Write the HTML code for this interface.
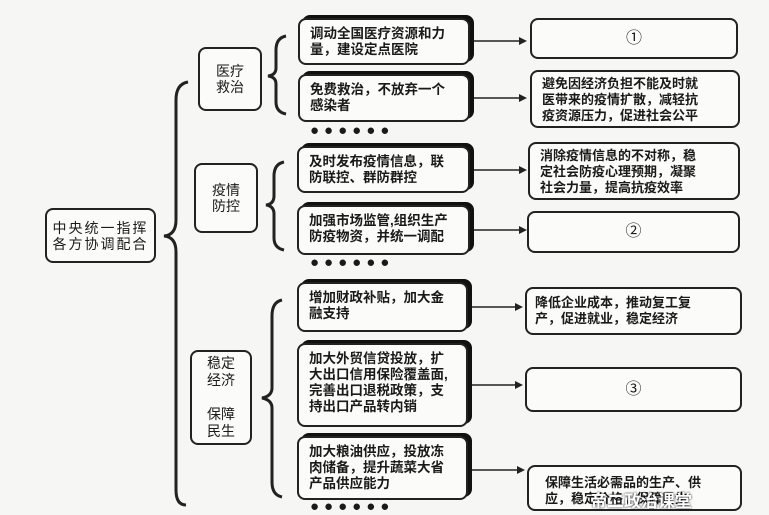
<!DOCTYPE html><html><head><meta charset="utf-8"><style>
body{margin:0;width:769px;height:515px;background:#f6f6f4;position:relative;overflow:hidden;font-family:"Liberation Sans","Noto Sans CJK SC",sans-serif;color:#1a1a1a}
.b{position:absolute;border:2px solid #222;border-radius:8px;background:#fbfbfa;box-sizing:border-box;font-size:14px;line-height:16px;font-weight:bold}
.s{box-shadow:4px -3px 0 #111;padding:6px 4px 6px 10px;font-size:13.5px}
.c{display:flex;align-items:center;justify-content:center;text-align:center}
.r{padding:6px 4px 6px 8px;font-size:13px;white-space:nowrap}
.d{position:absolute;font-size:15px;letter-spacing:5px;font-weight:bold}
</style></head><body>
<svg width="769" height="515" style="position:absolute;left:0;top:0" fill="none" stroke="#222" stroke-width="3">
<path d="M188 82 Q176 84 176 100 L176 220 Q176 235 164 236 Q176 237 176 252 L176 490 Q176 505 186 505"/>
<path d="M286 36 Q276 38 276 50 L276 68 Q276 75 268 76 Q276 77 276 84 L276 102 Q276 112 286 114"/>
<path d="M284 162 Q274 164 274 176 L274 196 Q274 204 266 205 Q274 206 274 214 L274 238 Q274 248 284 250"/>
<path d="M282 300 Q272 302 272 316 L272 388 Q272 396 262 398 Q272 400 272 408 L272 482 Q272 495 282 497"/>
<g stroke-width="1.5"><path d="M472 41H525M472 98H525M472 170H525M472 230H525M470 307H520M470 385H520M470 470H522"/></g>
<g fill="#222" stroke="none"><path d="M527 41l-8-4v8zM527 98l-8-4v8zM527 170l-8-4v8zM527 230l-8-4v8zM523 307l-8-4v8zM523 385l-8-4v8zM525 470l-8-4v8z"/></g>
</svg>
<div class="b c" style="left:45px;top:208px;width:111px;height:55px;font-weight:normal;letter-spacing:2px">中央统一指挥<br>各方协调配合</div>
<div class="b c" style="left:198px;top:47px;width:64px;height:64px;font-weight:normal">医疗<br>救治</div>
<div class="b c" style="left:194px;top:163px;width:64px;height:70px;font-weight:normal">疫情<br>防控</div>
<div class="b c" style="left:190px;top:350px;width:62px;height:95px;font-weight:normal;line-height:17px">稳定<br>经济<br><br>保障<br>民生</div>
<div class="b s" style="left:298px;top:18px;width:172px;height:47px">调动全国医疗资源和力<br>量，建设定点医院</div>
<div class="b s" style="left:298px;top:74px;width:172px;height:48px">免费救治，不放弃一个<br>感染者</div>
<div class="d" style="left:310px;top:122px">●●●●●●</div>
<div class="b s" style="left:297px;top:146px;width:173px;height:47px">及时发布疫情信息，联<br>防联控、群防群控</div>
<div class="b s" style="left:297px;top:205px;width:173px;height:50px">加强市场监管,组织生产<br>防疫物资，并统一调配</div>
<div class="d" style="left:310px;top:254px">●●●●●●</div>
<div class="b s" style="left:297px;top:282px;width:171px;height:50px">增加财政补贴，加大金<br>融支持</div>
<div class="b s" style="left:297px;top:343px;width:171px;height:84px">加大外贸信贷投放，扩<br>大出口信用保险覆盖面,<br>完善出口退税政策，支<br>持出口产品转内销</div>
<div class="b s" style="left:297px;top:436px;width:171px;height:64px">加大粮油供应，投放冻<br>肉储备，提升蔬菜大省<br>产品供应能力</div>
<div class="d" style="left:310px;top:498px">●●●●●●</div>
<div class="b c" style="left:530px;top:18px;width:208px;height:41px;font-weight:normal;font-size:16px">①</div>
<div class="b r" style="left:530px;top:70px;width:210px;height:58px;padding:4px 4px 4px 10px">避免因经济负担不能及时就<br>医带来的疫情扩散，减轻抗<br>疫资源压力，促进社会公平</div>
<div class="b r" style="left:528px;top:142px;width:212px;height:58px;padding:4px 4px 4px 10px">消除疫情信息的不对称，稳<br>定社会防疫心理预期，凝聚<br>社会力量，提高抗疫效率</div>
<div class="b c" style="left:527px;top:211px;width:213px;height:42px;font-weight:normal;font-size:16px">②</div>
<div class="b r" style="left:525px;top:287px;width:217px;height:48px">降低企业成本，推动复工复<br>产，促进就业，稳定经济</div>
<div class="b c" style="left:525px;top:367px;width:217px;height:45px;font-weight:normal;font-size:16px">③</div>
<div class="b r" style="left:527px;top:465px;width:215px;height:46px;padding:8px 4px 4px 16px">保障生活必需品的生产、供<br>应，稳定价格，保障民生</div>
<div style="position:absolute;left:590px;top:487px;color:#fff;font-size:17px;font-weight:bold;text-shadow:0 0 2px #000">帝二政治课堂</div>
</body></html>
